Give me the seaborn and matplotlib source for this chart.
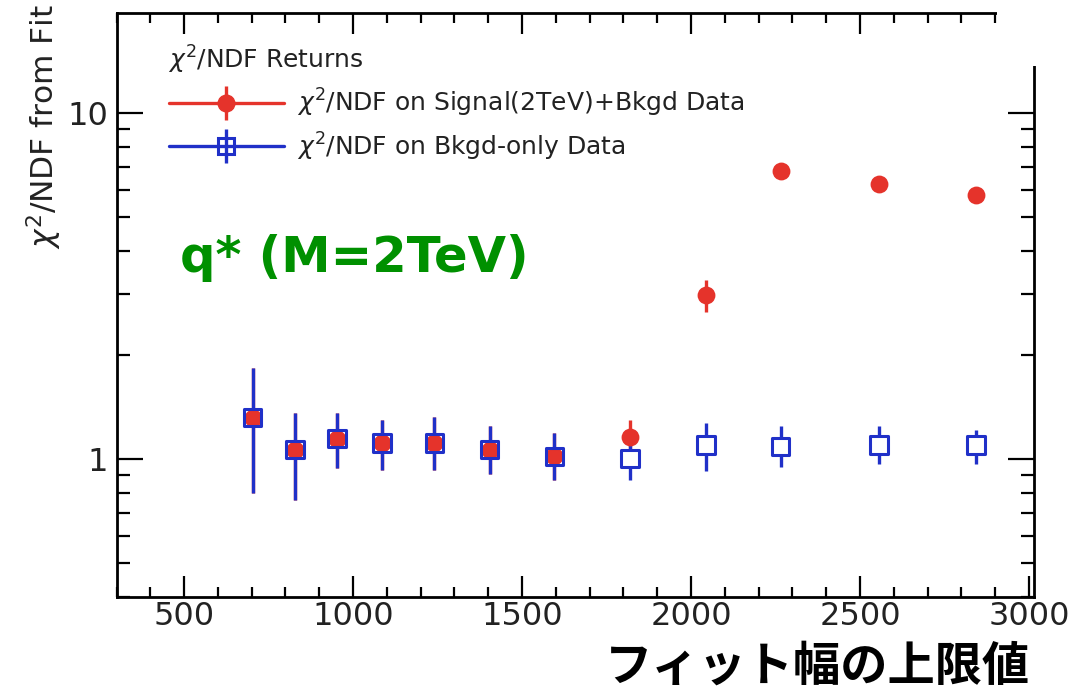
import matplotlib
matplotlib.use("Agg")
import matplotlib.pyplot as plt
import seaborn as sns
import pandas as pd
from matplotlib.lines import Line2D
from matplotlib.legend_handler import HandlerTuple
from matplotlib.ticker import FixedLocator, NullFormatter, MultipleLocator, FixedFormatter
from matplotlib.patches import Rectangle

# ---------------- data ----------------
mass_cut = [703, 829, 953, 1085, 1241, 1404, 1596, 1820, 2045, 2265, 2557, 2844]

bkg_chi2 = [1.32, 1.067, 1.148, 1.115, 1.115, 1.067, 1.02, 1.005, 1.098, 1.09, 1.098, 1.098]
bkg_up = [1.84, 1.36, 1.36, 1.30, 1.325, 1.246, 1.19, 1.16, 1.273, 1.246, 1.246, 1.218]
bkg_lo = [0.80, 0.765, 0.946, 0.929, 0.929, 0.909, 0.870, 0.870, 0.925, 0.950, 0.972, 0.972]

sig_chi2 = [1.32, 1.067, 1.148, 1.115, 1.115, 1.067, 1.02, 1.16, 2.98, 6.81, 6.26, 5.82]
sig_up = [1.84, 1.36, 1.36, 1.30, 1.325, 1.246, 1.19, 1.30, 3.29, 6.95, 6.40, 5.95]
sig_lo = [0.80, 0.765, 0.946, 0.929, 0.929, 0.909, 0.870, 1.03, 2.67, 6.67, 6.12, 5.69]

x_ticks = [500, 1000, 1500, 2000, 2500, 3000]
y_ticks = [1, 10]

legend_title = r"$\chi^2$/NDF Returns"
sig_label = r"$\chi^2$/NDF on Signal(2TeV)+Bkgd Data"
bkg_label = r"$\chi^2$/NDF on Bkgd-only Data"
y_title = r"$\chi^2$/NDF from Fit"
x_title = "フィット幅の上限値"
note = "q* (M=2TeV)"

RED = "#e5332b"
BLUE = "#2030c8"

sig = pd.DataFrame({"m": mass_cut, "chi2": sig_chi2})
bkg = pd.DataFrame({"m": mass_cut, "chi2": bkg_chi2})

sns.set_theme(style="ticks")
plt.rcParams["font.family"] = ["DejaVu Sans"]
plt.rcParams["mathtext.fontset"] = "dejavusans"

W, H = 1070, 690
fig = plt.figure(figsize=(W / 100, H / 100), dpi=100)
L, R, T, B = 116.5, 1034, 13, 597
ax = fig.add_axes([L / W, 1 - B / H, (R - L) / W, (B - T) / H])

# error bars (drawn under the markers, ROOT-like: no bar inside the boxes)
ax.errorbar(mass_cut, sig_chi2,
            yerr=[[c - l for c, l in zip(sig_chi2, sig_lo)], [u - c for c, u in zip(sig_chi2, sig_up)]],
            fmt="none", ecolor=RED, elinewidth=2.4, capsize=0, zorder=1)
ax.errorbar(mass_cut, bkg_chi2,
            yerr=[[c - l for c, l in zip(bkg_chi2, bkg_lo)], [u - c for c, u in zip(bkg_chi2, bkg_up)]],
            fmt="none", ecolor=BLUE, elinewidth=2.4, capsize=0, zorder=2)
# white box interiors for the background boxes
sns.scatterplot(data=bkg, x="m", y="chi2", ax=ax, marker="s", s=160,
                color="white", edgecolor="white", linewidth=0, zorder=3, legend=False)
# signal markers
sns.scatterplot(data=sig, x="m", y="chi2", ax=ax, color=RED, marker="o", s=165,
                edgecolor=RED, linewidth=0, zorder=4, legend=False)
# background box outlines
sns.scatterplot(data=bkg, x="m", y="chi2", ax=ax, marker="s", s=160,
                facecolor="none", edgecolor=BLUE, linewidth=2.2, zorder=5, legend=False)

ax.set_yscale("log")
ax.set_xlim(300, 3015)
ax.set_ylim(0.4, 19.5)

ax.xaxis.set_major_locator(FixedLocator(x_ticks))
ax.xaxis.set_minor_locator(MultipleLocator(100))
ax.yaxis.set_major_locator(FixedLocator(y_ticks))
ax.yaxis.set_major_formatter(FixedFormatter([str(v) for v in y_ticks]))
ax.yaxis.set_minor_locator(FixedLocator([0.4, 0.5, 0.6, 0.7, 0.8, 0.9, 2, 3, 4, 5, 6, 7, 8, 9]))
ax.yaxis.set_minor_formatter(NullFormatter())

ax.tick_params(axis="both", which="both", direction="in", top=True, right=True,
               width=1.6, color="black")
ax.tick_params(axis="x", which="major", length=15, pad=3, labelsize=23, labelcolor="#222222")
ax.tick_params(axis="x", which="minor", length=7.5)
ax.tick_params(axis="y", which="major", length=19, pad=6, labelsize=23, labelcolor="#222222")
ax.tick_params(axis="y", which="minor", length=9.5)
for s in ax.spines.values():
    s.set_linewidth(2.0)
    s.set_color("black")
ax.set_xlabel("")
ax.set_ylabel("")

# legend handles: horizontal line + marker + vertical error bar (overlaid)
sig_line = Line2D([], [], color=RED, lw=2.4, marker="o", ms=12, mec=RED)
sig_bar = Line2D([], [], color=RED, linestyle="none", marker="|", ms=24, mew=2.4)
bkg_line = Line2D([], [], color=BLUE, lw=2.4, marker="s", ms=11, mfc="none", mec=BLUE, mew=2.2)
bkg_bar = Line2D([], [], color=BLUE, linestyle="none", marker="|", ms=24, mew=2.4)
leg = ax.legend([(sig_bar, sig_line), (bkg_bar, bkg_line)], [sig_label, bkg_label],
                handler_map={tuple: HandlerTuple(ndivide=1, pad=0)},
                title=legend_title, loc="upper left", numpoints=1,
                bbox_to_anchor=(156 / W, 1 - 31 / H), bbox_transform=fig.transFigure,
                frameon=False, fontsize=18, title_fontsize=18, alignment="left",
                handlelength=4.6, handletextpad=0.55, labelspacing=0.45, borderpad=0)
for t in leg.get_texts():
    t.set_color("#222222")
leg.get_title().set_color("#222222")

# y title (rotated, top-aligned like ROOT)
fig.text(44 / W, 1 - 4 / H, y_title, rotation=90, ha="center", va="top",
         fontsize=22.5, color="#222222")

# annotation
fig.text(180 / W, 1 - 258 / H, note, ha="left", va="center", fontsize=35.7,
         fontweight="bold", color="#009000")

# x title (Japanese)
fig.text(1030 / W, 1 - 667 / H, x_title, ha="right", va="center", fontsize=34,
         fontweight="bold", family=["Noto Sans CJK JP", "DejaVu Sans"], color="black")

# white occlusion at the upper right corner, as in the reference
fig.patches.append(Rectangle((997 / W, 1 - 66 / H), 80 / W, 70 / H, transform=fig.transFigure,
                             facecolor="white", edgecolor="none", zorder=10))

fig.savefig("out.png", dpi=100, facecolor="white")
